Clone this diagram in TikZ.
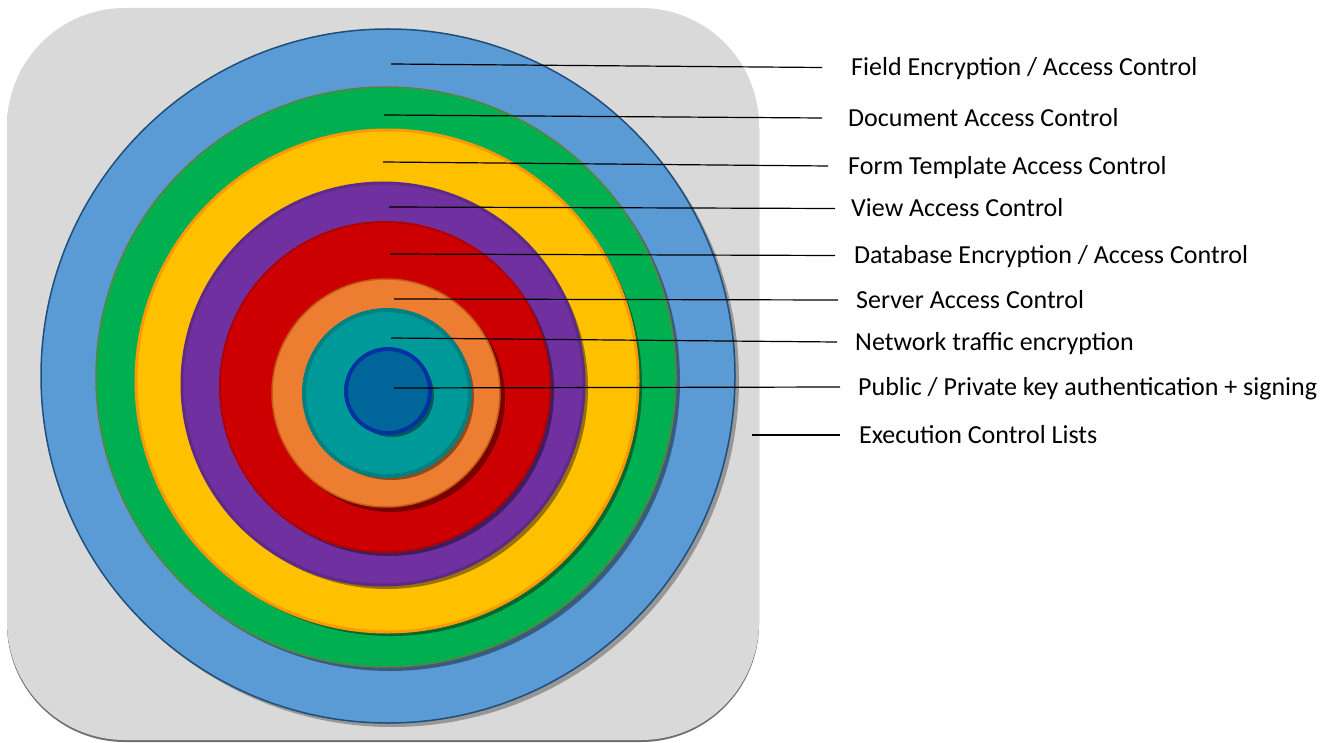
\documentclass[tikz,border=0pt]{standalone}
\usepackage{fontspec}
\setmainfont{Carlito}
\usetikzlibrary{shadows}
\definecolor{bggray}{HTML}{D9D9D9}
\definecolor{bgedge}{HTML}{6E6E6E}
\definecolor{cblue}{HTML}{5B9BD5}
\definecolor{cblueb}{HTML}{1F4E79}
\definecolor{cgreen}{HTML}{00B050}
\definecolor{cgreenb}{HTML}{5E8040}
\definecolor{cyellow}{HTML}{FFC000}
\definecolor{cyellowb}{HTML}{FF9900}
\definecolor{cpurple}{HTML}{7030A0}
\definecolor{cpurpleb}{HTML}{5E2A88}
\definecolor{cred}{HTML}{CC0000}
\definecolor{credb}{HTML}{B00000}
\definecolor{corange}{HTML}{ED7D31}
\definecolor{corangeb}{HTML}{C55A11}
\definecolor{cteal}{HTML}{009999}
\definecolor{ctealb}{HTML}{008080}
\definecolor{cnavy}{HTML}{006699}
\definecolor{cnavyb}{HTML}{0033A0}
\begin{document}
\begin{tikzpicture}[x=1pt,y=-1pt,
  ringshadow/.style={drop shadow={shadow xshift=#1,shadow yshift=-#1,opacity=0.4,fill=black}},
  lbl/.style={anchor=west,font=\fontsize{26}{30}\selectfont,text height=17.4pt,text depth=1pt,inner ysep=0pt},
  leader/.style={draw=black,line width=1.2pt}]
\useasboundingbox (0,0) rectangle (1329,743);
% background tile
\fill[bgedge, rounded corners=118pt] (7,11) rectangle (759,742);
\fill[bggray, rounded corners=118pt] (7,8) rectangle (759,740);
% rings
\draw[fill=cblue, draw=cblueb, line width=1.5pt, drop shadow={shadow xshift=4pt,shadow yshift=-4pt,opacity=0.3,fill=black}] (388,376) circle[radius=347pt];
\draw[fill=cgreen, draw=cgreenb, line width=1.5pt, ringshadow=4pt] (386,377) circle[radius=290pt];
\draw[fill=cyellow, draw=cyellowb, line width=3pt, ringshadow=4pt] (387,381) circle[radius=251pt];
\draw[fill=cpurple, draw=cpurpleb, line width=3pt, ringshadow=4pt] (383,384) circle[radius=201pt];
\draw[fill=cred, draw=credb, line width=2pt, ringshadow=4pt] (385,387) circle[radius=165pt];
\draw[fill=corange, draw=corangeb, line width=1.5pt, ringshadow=5pt] (386,393) circle[radius=114pt];
\draw[fill=cteal, draw=ctealb, line width=4pt, ringshadow=4pt] (387,393) circle[radius=83pt];
\draw[fill=cnavy, draw=cnavyb, line width=4pt, ringshadow=4pt] (388,391) circle[radius=42pt];
% leader start points
\coordinate (s1) at (391,64);
\coordinate (s2) at (384,115);
\coordinate (s3) at (383,162);
\coordinate (s4) at (389,207);
\coordinate (s5) at (390,254);
\coordinate (s6) at (394,299);
\coordinate (s7) at (391,338);
\coordinate (s8) at (394,388);
\coordinate (s9) at (752,435);
% labels
\node[lbl, inner xsep=29pt] (t1) at (822,67.5) {Field Encryption / Access Control};
\node[lbl, inner xsep=26pt] (t2) at (822,118) {Document Access Control};
\node[lbl, inner xsep=20pt] (t3) at (828,166) {Form Template Access Control};
\node[lbl, inner xsep=16pt] (t4) at (835,208.5) {View Access Control};
\node[lbl, inner xsep=19pt] (t5) at (835,255.5) {Database Encryption / Access Control};
\node[lbl, inner xsep=18pt] (t6) at (838,300) {Server Access Control};
\node[lbl, inner xsep=18pt] (t7) at (837,342) {Network traffic encryption};
\node[lbl, inner xsep=18pt] (t8) at (840,387) {Public / Private key authentication + signing};
\node[lbl, inner xsep=19pt] (t9) at (840,435) {Execution Control Lists};
% leaders
\draw[leader] (s1) -- (t1.west);
\draw[leader] (s2) -- (t2.west);
\draw[leader] (s3) -- (t3.west);
\draw[leader] (s4) -- (t4.west);
\draw[leader] (s5) -- (t5.west);
\draw[leader] (s6) -- (t6.west);
\draw[leader] (s7) -- (t7.west);
\draw[leader] (s8) -- (t8.west);
\draw[leader, line width=2pt] (s9) -- (t9.west);
\end{tikzpicture}
\end{document}
